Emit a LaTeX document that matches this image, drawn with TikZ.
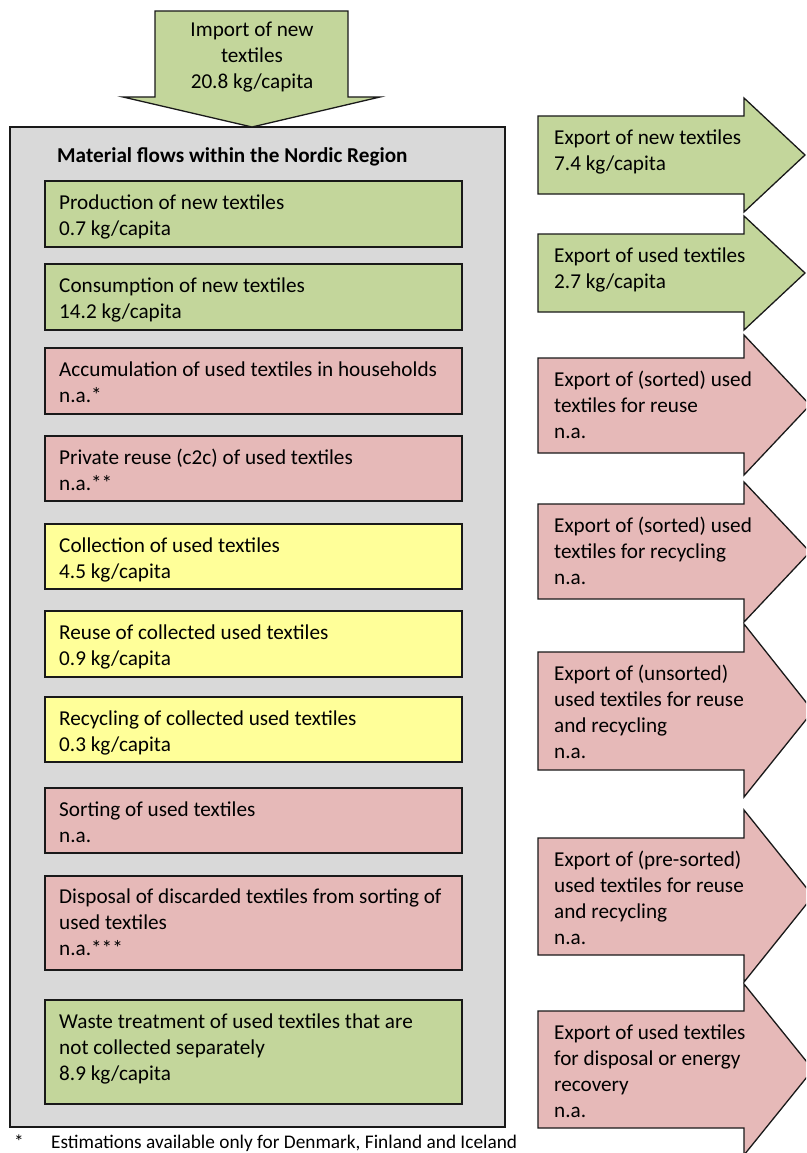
\documentclass[tikz,border=0pt]{standalone}
\usepackage{fontspec}
\setmainfont{Carlito}
\definecolor{flowgreen}{HTML}{C3D69B}
\definecolor{flowpink}{HTML}{E6B9B8}
\definecolor{flowyellow}{HTML}{FFFF99}
\definecolor{regiongray}{HTML}{D9D9D9}

\begin{document}
\begin{tikzpicture}[x=1pt,y=-1pt,
		flowbox/.style={draw=black!90,line width=1.3pt},
		flowtext/.style={anchor=base west,inner sep=0pt,align=left,font=\fontsize{21.2}{26}\selectfont}]
		\useasboundingbox (0,0) rectangle (806,1153);
		\clip (0,0) rectangle (806,1153);
		% region box (text nodes sit on the baseline of their last line)
		\draw[draw=black!90,line width=2pt,fill=regiongray] (10,127) rectangle (505,1127);
		\node[flowtext,font=\bfseries\fontsize{21.2}{26}\selectfont] (title) at (57,162) {Material flows within the Nordic Region};
		% import arrow
		\draw[flowbox,fill=flowgreen] (155,11) -- (348,11) -- (348,97) -- (380,97) -- (252,127) -- (123,97) -- (155,97) -- cycle;
		\node[flowtext,anchor=base,align=center] (import) at (252,89) {Import of new\\textiles\\20.8 kg/capita};
		% flows within the region
		\draw[flowbox,fill=flowgreen] (45,181) rectangle (462,247);
		\node[flowtext] (prod) at (59,235.5) {Production of new textiles\\0.7 kg/capita};
		\draw[flowbox,fill=flowgreen] (45,264) rectangle (462,330);
		\node[flowtext] (cons) at (59,318.5) {Consumption of new textiles\\14.2 kg/capita};
		\draw[flowbox,fill=flowpink] (45,348) rectangle (462,414);
		\node[flowtext] (accu) at (59,402.5) {Accumulation of used textiles in households\\n.a.*};
		\draw[flowbox,fill=flowpink] (45,436) rectangle (462,501);
		\node[flowtext] (priv) at (59,490.5) {Private reuse (c2c) of used textiles\\n.a.**};
		\draw[flowbox,fill=flowyellow] (45,524) rectangle (462,589);
		\node[flowtext] (coll) at (59,578.5) {Collection of used textiles\\4.5 kg/capita};
		\draw[flowbox,fill=flowyellow] (45,611) rectangle (462,677);
		\node[flowtext] (reuse) at (59,665.5) {Reuse of collected used textiles\\0.9 kg/capita};
		\draw[flowbox,fill=flowyellow] (45,697) rectangle (462,762);
		\node[flowtext] (recy) at (59,751.5) {Recycling of collected used textiles\\0.3 kg/capita};
		\draw[flowbox,fill=flowpink] (45,788) rectangle (462,853);
		\node[flowtext] (sort) at (59,842.5) {Sorting of used textiles\\n.a.};
		\draw[flowbox,fill=flowpink] (45,876) rectangle (462,970);
		\node[flowtext] (disp) at (59,955.5) {Disposal of discarded textiles from sorting of\\used textiles\\n.a.***};
		\draw[flowbox,fill=flowgreen] (45,1000) rectangle (462,1104);
		\node[flowtext] (waste) at (59,1080.5) {Waste treatment of used textiles that are\\not collected separately\\8.9 kg/capita};
		% export arrows
		\draw[flowbox,fill=flowgreen] (538,116) -- (744,116) -- (744,98) -- (805,155) -- (744,212) -- (744,194) -- (538,194) -- cycle;
		\node[flowtext] (expnew) at (554,170) {Export of new textiles\\7.4 kg/capita};
		\draw[flowbox,fill=flowgreen] (538,234) -- (744,234) -- (744,216) -- (805,273) -- (744,330) -- (744,312) -- (538,312) -- cycle;
		\node[flowtext] (expused) at (554,288) {Export of used textiles\\2.7 kg/capita};
		\draw[flowbox,fill=flowpink] (538,358) -- (744,358) -- (744,335) -- (810,405) -- (744,475) -- (744,453) -- (538,453) -- cycle;
		\node[flowtext] (expreuse) at (554,438) {Export of (sorted) used\\textiles for reuse\\n.a.};
		\draw[flowbox,fill=flowpink] (538,504) -- (744,504) -- (744,482) -- (810,552) -- (744,622) -- (744,599) -- (538,599) -- cycle;
		\node[flowtext] (exprecy) at (554,584) {Export of (sorted) used\\textiles for recycling\\n.a.};
		\draw[flowbox,fill=flowpink] (538,652) -- (744,652) -- (744,624) -- (813,711) -- (744,797) -- (744,770) -- (538,770) -- cycle;
		\node[flowtext] (expunsort) at (554,758) {Export of (unsorted)\\used textiles for reuse\\and recycling\\n.a.};
		\draw[flowbox,fill=flowpink] (538,838) -- (744,838) -- (744,810) -- (813,896) -- (744,982) -- (744,955) -- (538,955) -- cycle;
		\node[flowtext] (exppresort) at (554,944) {Export of (pre-sorted)\\used textiles for reuse\\and recycling\\n.a.};
		\draw[flowbox,fill=flowpink] (538,1011) -- (744,1011) -- (744,984) -- (813,1069.5) -- (744,1155) -- (744,1128) -- (538,1128) -- cycle;
		\node[flowtext] (expdisp) at (554,1117) {Export of used textiles\\for disposal or energy\\recovery\\n.a.};
		% footnote
		\node[flowtext,font=\fontsize{19.3}{24}\selectfont] (star) at (14,1148) {*};
		\node[flowtext,font=\fontsize{19.3}{24}\selectfont] (note) at (51,1148) {Estimations available only for Denmark, Finland and Iceland};
	\end{tikzpicture}
\end{document}
